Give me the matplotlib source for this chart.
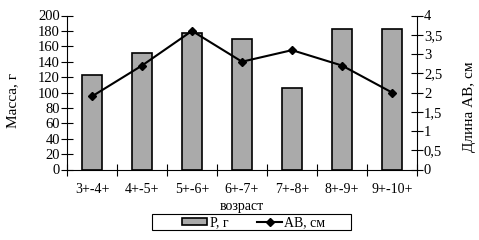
import matplotlib
matplotlib.use('Agg')
import matplotlib.pyplot as plt
from matplotlib.patches import Rectangle
from matplotlib.ticker import FixedLocator, FuncFormatter

plt.rcParams['font.family'] = ['Liberation Serif', 'DejaVu Serif']

ages = ['3+-4+', '4+-5+', '5+-6+', '6+-7+', '7+-8+', '8+-9+', '9+-10+']
mass = [123, 151, 177, 170, 106, 182, 183]
length_ab = [1.9, 2.7, 3.6, 2.8, 3.1, 2.7, 2.0]

W, H = 479, 240
fig = plt.figure(figsize=(W / 100, H / 100), dpi=100)
ax = fig.add_axes([67 / W, 1 - 169.5 / H, (417 - 67) / W, (169.5 - 15.5) / H])
ax2 = ax.twinx()

x = list(range(len(ages)))
bars = ax.bar(x, mass, width=0.41, color='#aaaaaa', edgecolor='black', linewidth=1.2,
              label='Р, г', zorder=2)
line, = ax2.plot(x, length_ab, color='black', linewidth=1.5, marker='D', markersize=4.5,
                 label='АВ, см', zorder=3)

ax.set_xlim(-0.5, len(ages) - 0.5)
ax.set_ylim(0, 200)
ax.set_yticks(range(0, 201, 20))
ax2.set_ylim(0, 4)
ax2.set_yticks([i * 0.5 for i in range(9)])
ax2.yaxis.set_major_formatter(FuncFormatter(lambda v, p: ('%g' % v).replace('.', ',')))

ax.set_xticks(x)
ax.set_xticklabels(ages)
ax.xaxis.set_minor_locator(FixedLocator([i - 0.5 for i in range(len(ages) + 1)]))
ax.tick_params(axis='x', which='major', length=0, pad=10, labelsize=10)
ax.tick_params(axis='x', which='minor', direction='inout', length=8, width=0.8)
ax.tick_params(axis='y', direction='inout', length=8, width=0.8, labelsize=10.5, pad=1)
ax2.tick_params(axis='y', direction='inout', length=8, width=0.8, labelsize=10.5, pad=1)

for a in (ax, ax2):
    a.spines['top'].set_visible(False)
    for s in ('left', 'right', 'bottom'):
        a.spines[s].set_linewidth(0.8)
ax2.spines['left'].set_visible(False)
ax2.spines['bottom'].set_visible(False)
ax.spines['right'].set_visible(False)

ax.set_xlabel('возраст', fontsize=10, labelpad=2.5)
ax.set_ylabel('Масса, г', fontsize=11)
ax2.set_ylabel('Длина АВ, см', fontsize=11)
ax.yaxis.set_label_coords((13 - 67) / 350, (169.5 - 100) / 154)
ax2.yaxis.set_label_coords((470 - 67) / 350, (169.5 - 107) / 154)
ax.yaxis.label.set_va('center')
ax2.yaxis.label.set_va('center')

# legend frame
fig.patches.append(Rectangle((151.5 / W, 1 - 230 / H), (350.5 - 151.5) / W, 16 / H,
                             transform=fig.transFigure, fill=False, edgecolor='black',
                             linewidth=0.8))
leg = fig.legend([bars, line], ['Р, г', 'АВ, см'], loc='center',
                 bbox_to_anchor=(254 / W, 1 - 222.5 / H),
                 ncol=2, frameon=False, fontsize=10, handlelength=1.8, handleheight=0.4,
                 columnspacing=2.1, borderpad=0.1, handletextpad=0.15)

fig.savefig('out.png', dpi=100)
